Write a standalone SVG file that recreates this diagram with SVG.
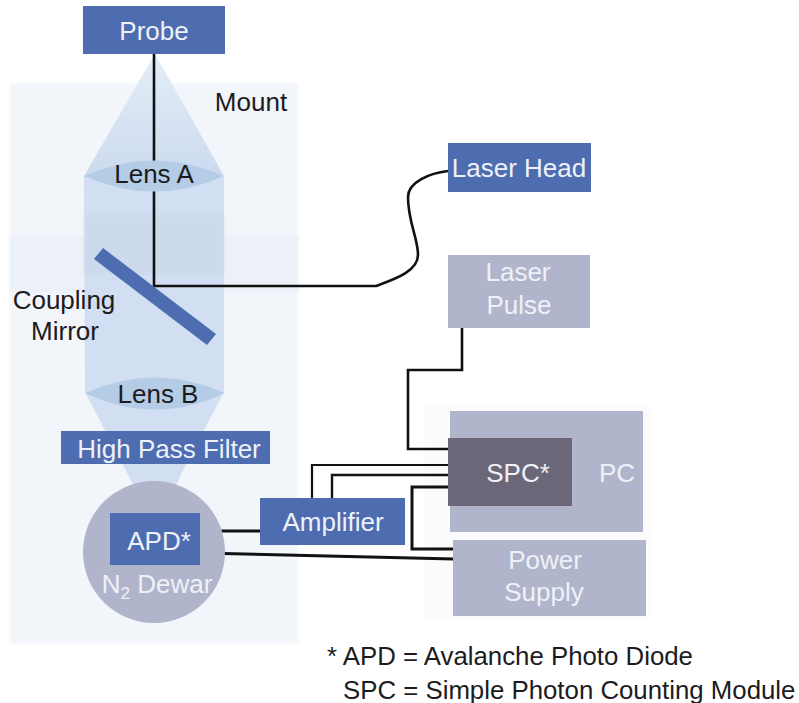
<svg xmlns="http://www.w3.org/2000/svg" width="799" height="703" viewBox="0 0 799 703">
<style>
text{font-family:"Liberation Sans",Arial,sans-serif;font-size:26px;text-anchor:middle}
.d{fill:#1c1c1e}
.w{fill:#eef1f8}
.b{fill:#4d6db0}
.g{fill:#b1b5cc}
.c{fill:none;stroke:#111;stroke-width:2.6;stroke-linejoin:miter}
.n{font-size:25.8px;text-anchor:start}
.l{fill:#b4cce6}
</style>
<defs>
<filter id="s" x="-5%" y="-5%" width="110%" height="110%"><feGaussianBlur stdDeviation="1.5"/></filter>
<linearGradient id="a" x1="0" y1="0" x2="0" y2="1"><stop offset="0" stop-color="#e3eef8"/><stop offset="1" stop-color="#cddaef"/></linearGradient>
</defs>
<rect width="799" height="703" fill="#fff"/>
<g id="background">
<rect x="10" y="83" width="288" height="560" fill="#f2f5fa" filter="url(#s)"/>
<rect x="10" y="236" width="288" height="56" fill="#ecf0f7" filter="url(#s)"/>
<rect x="424" y="405" width="226" height="215" fill="#fbfbfd" filter="url(#s)"/>
</g>
<g id="beam">
<polygon points="155,54 84,176 224,176" fill="url(#a)"/>
<polygon points="84,176 224,176 224,392 182,472 176,486 134,486 85,392" fill="#d2def2"/>
<rect x="84" y="215" width="140" height="60" fill="#c9d5ea" opacity=".5" filter="url(#s)"/>
</g>
<g id="connectors">
<path class="c" d="M154,54V286H376C392,280 418,272 418,255C418,238 408,222 408,197C408,182 430,173 448,171"/>
<path class="c" d="M462,328V370H408V449H449"/>
<path class="c" d="M312,498V465H449" style="stroke-width:2.2"/>
<path class="c" d="M332,498V475H449" style="stroke-width:2.4"/>
<path class="c" d="M449,487H412V549H454" style="stroke-width:3"/>
<path class="c" d="M200,531H261" style="stroke-width:3"/>
<path class="c" d="M200,553L454,559" style="stroke-width:3"/>
</g>
<g id="lens-a"><path class="l" d="M84,176Q154,145 224,176Q154,207 84,176Z"/><text x="154" y="183" class="d">Lens A</text></g>
<g id="lens-b"><path class="l" d="M85,393Q155,362 225,393Q155,426 85,393Z"/><text x="158" y="403" class="d">Lens B</text></g>
<g id="mount"><text x="251" y="111" class="d">Mount</text></g>
<g id="probe"><rect class="b" x="83" y="6" width="142" height="48"/><text x="154" y="40" class="w">Probe</text></g>
<g id="mirror"><polygon class="b" points="103,248 94,259 207,345 216,334"/></g>
<g id="coupling-mirror"><text x="64" y="309" class="d">Coupling</text><text x="65" y="340" class="d">Mirror</text></g>
<g id="filter"><rect class="b" x="61" y="431" width="209" height="33"/><text x="169" y="458" class="w">High Pass Filter</text></g>
<g id="dewar"><circle cx="154" cy="552" r="71" class="g"/><text x="157" y="593" class="w">N<tspan font-size="17" dy="6">2</tspan><tspan dy="-6"> Dewar</tspan></text></g>
<g id="apd"><rect class="b" x="110" y="513" width="90" height="52"/><text x="159" y="550" class="w">APD*</text></g>
<g id="amplifier"><rect class="b" x="260" y="498" width="145" height="47"/><text x="333" y="531" class="w">Amplifier</text></g>
<g id="laser-head"><rect class="b" x="448" y="143" width="143" height="49"/><text x="519" y="177" class="w">Laser Head</text></g>
<g id="laser-pulse"><rect class="g" x="448" y="255" width="142" height="73"/><text x="518" y="281" class="w">Laser</text><text x="519" y="314" class="w">Pulse</text></g>
<g id="pc"><rect class="g" x="450" y="411" width="193" height="121"/><text x="617" y="482" class="w">PC</text></g>
<g id="spc"><rect x="448" y="438" width="124" height="68" fill="#6c6778"/><text x="518" y="482" class="w">SPC*</text></g>
<g id="power-supply"><rect class="g" x="453" y="540" width="193" height="76"/><text x="545" y="569" class="w">Power</text><text x="544" y="601" class="w">Supply</text></g>
<g id="note"><text x="327" y="665" class="d n">* APD = Avalanche Photo Diode</text><text x="343" y="699" class="d n">SPC = Simple Photon Counting Module</text></g>
</svg>
